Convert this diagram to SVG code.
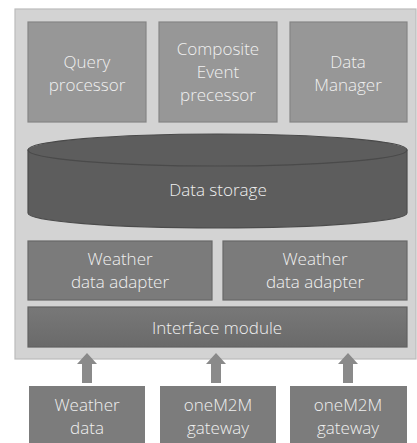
<svg xmlns="http://www.w3.org/2000/svg" width="417" height="443" viewBox="0 0 417 443">
  <style>
    text { font-family: "Open Sans", "Noto Sans", sans-serif; font-size: 17px; font-weight: 300; fill: #f0f0f0; text-anchor: middle; }
    .panel { fill: #d3d3d3; stroke: #bcbcbc; stroke-width: 1.2; }
    .top { fill: #979797; stroke: #858585; stroke-width: 1.2; }
    .mid { fill: #7b7b7b; stroke: #686868; stroke-width: 1.2; }
    .src { fill: #7c7c7c; }
    .arrow { fill: #8a8a8a; }
  </style>
  <defs>
    <linearGradient id="ifGrad" x1="0" y1="0" x2="0" y2="1">
      <stop offset="0" stop-color="#787878"/>
      <stop offset="1" stop-color="#6a6a6a"/>
    </linearGradient>
    <path id="upArrow" d="M0,0 L10,11 L5,11 L5,30 L-5,30 L-5,11 L-10,11 Z"/>
  </defs>

  <rect class="panel" x="15" y="9" width="401" height="350"/>

  <g id="query-processor">
    <rect class="top" x="28" y="22" width="118" height="100"/>
    <text x="87" y="68">Query</text>
    <text x="87" y="91">processor</text>
  </g>
  <g id="composite-event-processor">
    <rect class="top" x="159" y="22" width="118" height="100"/>
    <text x="218" y="55">Composite</text>
    <text x="218" y="78">Event</text>
    <text x="218" y="101">precessor</text>
  </g>
  <g id="data-manager">
    <rect class="top" x="290" y="22" width="117" height="100"/>
    <text x="348" y="68">Data</text>
    <text x="348" y="91">Manager</text>
  </g>

  <g id="data-storage">
    <path d="M28,150 L28,213 A189.5,15 0 0 0 407,213 L407,150 Z" fill="#5d5d5d" stroke="#4c4c4c" stroke-width="1.2"/>
    <ellipse cx="217.5" cy="150" rx="189.5" ry="16" fill="#5d5d5d" stroke="#4a4a4a" stroke-width="1.2"/>
    <text x="218" y="196">Data storage</text>
  </g>

  <g id="weather-adapter-1">
    <rect class="mid" x="28" y="241" width="184" height="59"/>
    <text x="120" y="265">Weather</text>
    <text x="120" y="288">data adapter</text>
  </g>
  <g id="weather-adapter-2">
    <rect class="mid" x="223" y="241" width="184" height="59"/>
    <text x="315" y="265">Weather</text>
    <text x="315" y="288">data adapter</text>
  </g>

  <g id="interface-module">
    <rect x="28" y="307" width="379" height="40" fill="url(#ifGrad)" stroke="#626262" stroke-width="1.2"/>
    <text x="217" y="334">Interface module</text>
  </g>

  <g id="connectors">
    <use href="#upArrow" class="arrow" x="87" y="353"/>
    <use href="#upArrow" class="arrow" x="216" y="353"/>
    <use href="#upArrow" class="arrow" x="348" y="353"/>
  </g>

  <g id="weather-data">
    <rect class="src" x="29" y="386" width="116" height="60"/>
    <text x="87" y="411">Weather</text>
    <text x="87" y="434">data</text>
  </g>
  <g id="onem2m-gateway-1">
    <rect class="src" x="160" y="386" width="116" height="60"/>
    <text x="218" y="411">oneM2M</text>
    <text x="218" y="434">gateway</text>
  </g>
  <g id="onem2m-gateway-2">
    <rect class="src" x="290" y="386" width="117" height="60"/>
    <text x="348" y="411">oneM2M</text>
    <text x="348" y="434">gateway</text>
  </g>
</svg>
